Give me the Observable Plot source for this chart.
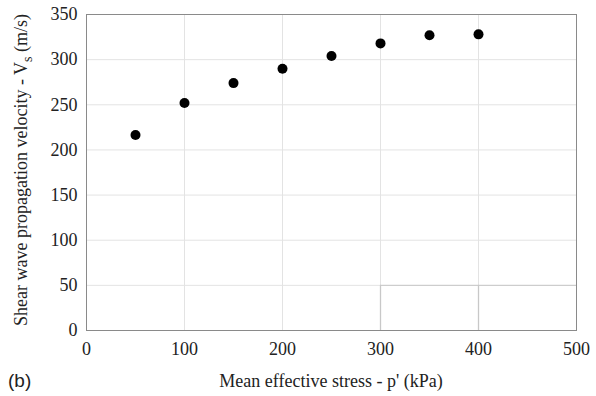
<!DOCTYPE html>
<html><head><meta charset="utf-8">
<script src="https://cdn.jsdelivr.net/npm/d3@7"></script>
<script src="https://cdn.jsdelivr.net/npm/@observablehq/plot@0.6"></script>
<style>
body{margin:0;background:#fff}
</style>
</head><body><div id="chart"></div>
<script>
const stress = [50, 100, 150, 200, 250, 300, 350, 400];
const velocity = [216.5, 252, 274, 290, 304, 318, 327, 328];
const xTicks = [0, 100, 200, 300, 400, 500];
const yTicks = [0, 50, 100, 150, 200, 250, 300, 350];
const data = stress.map((s, i) => ({s, v: velocity[i]}));

const SERIF = "Times New Roman, Liberation Serif, serif";
const W = 596, H = 396, ml = 86, mr = 20, mt = 14, mb = 66;
const plot = Plot.plot({
  width: W, height: H,
  marginLeft: ml, marginRight: mr, marginTop: mt, marginBottom: mb,
  style: {fontFamily: SERIF, fontSize: "18px", color: "#222", background: "#fff", overflow: "visible"},
  x: {domain: [0, 500], ticks: xTicks},
  y: {domain: [0, 350], ticks: yTicks},
  marks: [
    Plot.gridX(xTicks, {stroke: "#e3e3e3", strokeOpacity: 1}),
    Plot.gridY(yTicks, {stroke: "#e3e3e3", strokeOpacity: 1}),
    Plot.ruleY([50], {x1: 300, x2: 500, stroke: "#c8c8c8"}),
    Plot.ruleX([300, 400], {y1: 0, y2: 50, stroke: "#c8c8c8", strokeWidth: 1.3}),
    Plot.frame({stroke: "#8a8a8a"}),
    Plot.axisX(xTicks, {tickSize: 0, tickPadding: 12, label: null, fontSize: 18}),
    Plot.axisY(yTicks, {tickSize: 0, tickPadding: 9, label: null, fontSize: 18}),
    Plot.dot(data, {x: "s", y: "v", r: 5, fill: "#000", stroke: "none"})
  ]
});
document.getElementById("chart").appendChild(plot);

const svg = d3.select(plot);
svg.selectAll("text, g").attr("font-family", SERIF).style("font-family", SERIF);
svg.append("text")
  .attr("x", ml + (W - ml - mr) / 2).attr("y", 387)
  .attr("text-anchor", "middle")
  .style("font-family", SERIF).style("font-size", "18px").attr("fill", "#222")
  .text("Mean effective stress - p' (kPa)");
const yt = svg.append("text")
  .attr("transform", `translate(27,${mt + (H - mt - mb) / 2 - 2}) rotate(-90)`)
  .attr("text-anchor", "middle")
  .style("font-family", SERIF).style("font-size", "18px").attr("fill", "#222");
yt.append("tspan").text("Shear wave propagation velocity - V");
yt.append("tspan").style("font-size", "14px").attr("dy", 5).text("s");
yt.append("tspan").attr("dy", -5).text(" (m/s)");
svg.append("text")
  .attr("x", 8).attr("y", 387).attr("text-anchor", "start")
  .style("font-family", "Arial, Liberation Sans, sans-serif").style("font-size", "19px").attr("fill", "#222")
  .text("(b)");
</script>
</body></html>
